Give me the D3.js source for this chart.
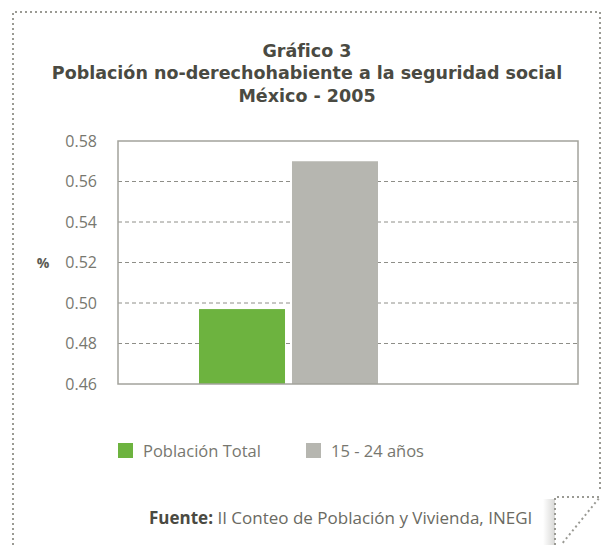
<!DOCTYPE html>
<html lang="es">
<head>
<meta charset="UTF-8" />
<title>Gráfico 3</title>
<script src="https://d3js.org/d3.v7.min.js"></script>
<style>
  body { margin: 0; background: #fff; }
  svg text { fill: #5b5b53; }
  .title { font: bold 17.5px "DejaVu Sans", sans-serif; fill: #4a4a42; }
  .tick text { font: 16px "Open Sans", sans-serif; fill: #77776f; }
  .legend text { font: 16.5px "Open Sans", sans-serif; fill: #77776f; }
  .source { font: 17px "Open Sans", sans-serif; fill: #6a6a62; }
</style>
</head>
<body>
<div id="chart"></div>
<script>
// data
const series = ["Población Total", "15 - 24 años"];
const values = [0.497, 0.570];
const colors = ["#6db33f", "#b6b6b0"];
const yTicks = [0.46, 0.48, 0.50, 0.52, 0.54, 0.56, 0.58];
const titleLines = ["Gráfico 3", "Población no-derechohabiente a la seguridad social", "México - 2005"];

const width = 602, height = 545;
const plot = { left: 118, right: 578, top: 141, bottom: 384 };

const svg = d3.select("#chart").append("svg")
  .attr("width", width).attr("height", height);

// dotted frame with folded corner
const dot = "#9a9a94";
svg.append("path")
  .attr("d", "M13,545 L13,12 L600,12 L600,492")
  .attr("fill", "none").attr("stroke", dot)
  .attr("stroke-width", 2).attr("stroke-dasharray", "2,3");

const grad = svg.append("defs").append("linearGradient")
  .attr("id", "shadow").attr("x1", "0").attr("x2", "1");
grad.append("stop").attr("offset", "0").attr("stop-color", "#fff");
grad.append("stop").attr("offset", "1").attr("stop-color", "#d8d8d6");
svg.append("rect").attr("x", 543).attr("y", 499).attr("width", 12).attr("height", 46)
  .attr("fill", "url(#shadow)");
svg.append("path")
  .attr("d", "M555,545 L555,497 L600,497 L561,545")
  .attr("fill", "#fff").attr("stroke", dot)
  .attr("stroke-width", 2).attr("stroke-dasharray", "2,3");

// title
svg.append("text").attr("class", "title")
  .attr("text-anchor", "middle")
  .selectAll("tspan").data(titleLines).join("tspan")
  .attr("x", 307).attr("y", (d, i) => 56.5 + i * 22.6)
  .text(d => d);

// scales
const y = d3.scaleLinear().domain([0.46, 0.58]).range([plot.bottom, plot.top]);
const x = d3.scaleBand().domain(series).range([199, 378]).paddingInner(0.075);

// grid
svg.append("g").selectAll("line")
  .data(yTicks.filter(t => t > 0.46 && t < 0.58)).join("line")
  .attr("x1", plot.left).attr("x2", plot.right)
  .attr("y1", d => y(d)).attr("y2", d => y(d))
  .attr("stroke", "#8e8e88").attr("stroke-width", 1)
  .attr("stroke-dasharray", "4,3");

// bars
svg.append("g").selectAll("rect")
  .data(series).join("rect")
  .attr("x", d => x(d)).attr("width", x.bandwidth())
  .attr("y", (d, i) => y(values[i]))
  .attr("height", (d, i) => plot.bottom - y(values[i]))
  .attr("fill", (d, i) => colors[i]);

// frame
svg.append("rect")
  .attr("x", plot.left).attr("y", plot.top)
  .attr("width", plot.right - plot.left).attr("height", plot.bottom - plot.top)
  .attr("fill", "none").attr("stroke", "#a3a39c").attr("stroke-width", 1.5);

// y axis
const yAxis = svg.append("g")
  .attr("transform", `translate(${plot.left},0)`)
  .call(d3.axisLeft(y).tickValues(yTicks).tickFormat(d3.format(".2f")).tickSize(0).tickPadding(21));
yAxis.select(".domain").remove();

svg.append("text")
  .attr("x", 43).attr("y", 268).attr("text-anchor", "middle")
  .style("font", "bold 14px 'Open Sans', sans-serif").style("fill", "#5b5b53")
  .text("%");

// legend
const legendX = [118, 306];
const lg = svg.append("g").attr("class", "legend").selectAll("g")
  .data(series).join("g")
  .attr("transform", (d, i) => `translate(${legendX[i]},443)`);
lg.append("rect").attr("width", 15).attr("height", 15).attr("fill", (d, i) => colors[i]);
lg.append("text").attr("x", 25).attr("y", 14).text(d => d);

// source
const src = svg.append("text").attr("class", "source").attr("x", 149).attr("y", 524);
src.append("tspan").style("font-weight", "bold").style("fill", "#4a4a42").text("Fuente: ");
src.append("tspan").text("II Conteo de Población y Vivienda, INEGI");
</script>
</body>
</html>
